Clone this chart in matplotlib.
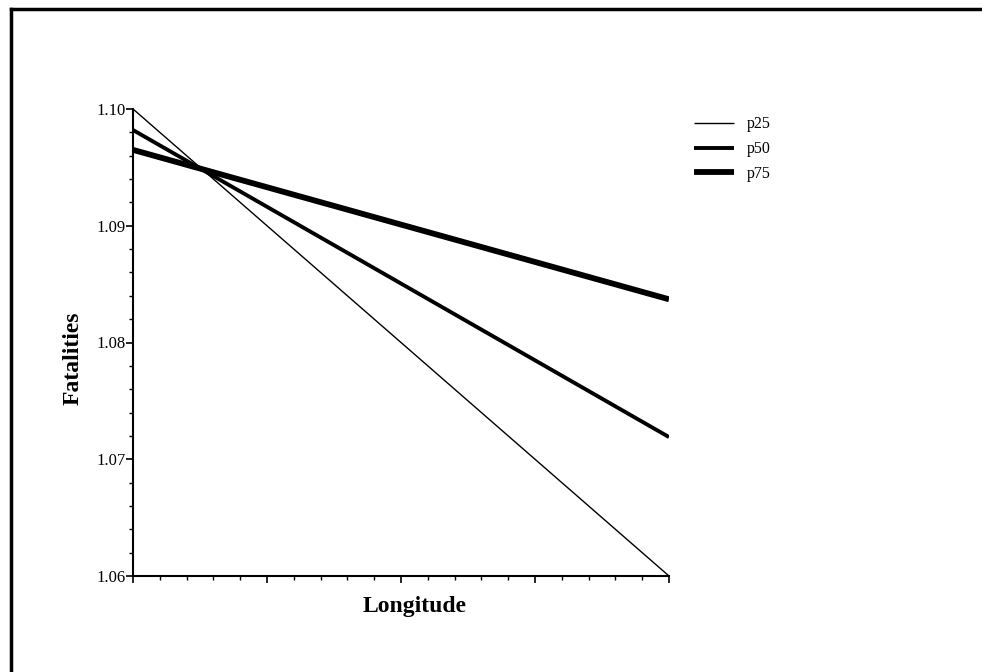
import matplotlib.pyplot as plt
from matplotlib.lines import Line2D
from matplotlib.ticker import MultipleLocator

plt.rcParams['font.family'] = ['Liberation Serif', 'DejaVu Serif']

# Data (straight lines between the axis ends)
longitude = [0, 4]
series_names = ['p25', 'p50', 'p75']
p25 = [1.1000, 1.0600]
p50 = [1.0982, 1.0719]
p75 = [1.0965, 1.0837]
y_ticks = [1.06, 1.07, 1.08, 1.09, 1.10]
y_labels = ['1.06', '1.07', '1.08', '1.09', '1.10']
widths = [1.0, 2.8, 4.2]

W, H = 982, 672
fig = plt.figure(figsize=(W / 100, H / 100), dpi=100)
ax = fig.add_axes([133 / W, 96 / H, 536 / W, 467 / H])

for name, vals, lw in zip(series_names, [p25, p50, p75], widths):
    ax.plot(longitude, vals, color='black', linewidth=lw, label=name,
            solid_capstyle='butt')

ax.set_xlim(0, 4)
ax.set_ylim(1.06, 1.10)
ax.xaxis.set_major_locator(MultipleLocator(1))
ax.xaxis.set_minor_locator(MultipleLocator(0.2))
ax.set_yticks(y_ticks)
ax.set_yticklabels(y_labels, fontsize=12)
ax.yaxis.set_minor_locator(MultipleLocator(0.002))
ax.tick_params(axis='x', which='both', labelbottom=False)
ax.tick_params(which='major', length=5, width=1.2, direction='out', pad=0)
ax.tick_params(which='minor', length=3, width=1.0, direction='out')

for side in ['top', 'right']:
    ax.spines[side].set_visible(False)
for side in ['left', 'bottom']:
    ax.spines[side].set_linewidth(1.5)

ax.set_xlabel('Longitude', fontsize=17, fontweight='bold')
ax.xaxis.set_label_coords(0.526, -0.043)
ax.set_ylabel('Fatalities', fontsize=17, fontweight='bold')
ax.yaxis.set_label_coords(-0.093, 0.467)

ax.legend(loc='upper left', bbox_to_anchor=(688 / W, 1 - 110 / H),
          bbox_transform=fig.transFigure, frameon=False, fontsize=11.5,
          handlelength=2.5, handletextpad=0.8, labelspacing=0.55,
          borderaxespad=0)

# frame around the picture (top and left edges only)
fig.add_artist(Line2D([10.5 / W, 1], [1 - 9 / H, 1 - 9 / H],
                      transform=fig.transFigure, color='black', linewidth=2.5))
fig.add_artist(Line2D([10.5 / W, 10.5 / W], [0, 1 - 9 / H],
                      transform=fig.transFigure, color='black', linewidth=2.5))

fig.savefig('out.png', dpi=100)
